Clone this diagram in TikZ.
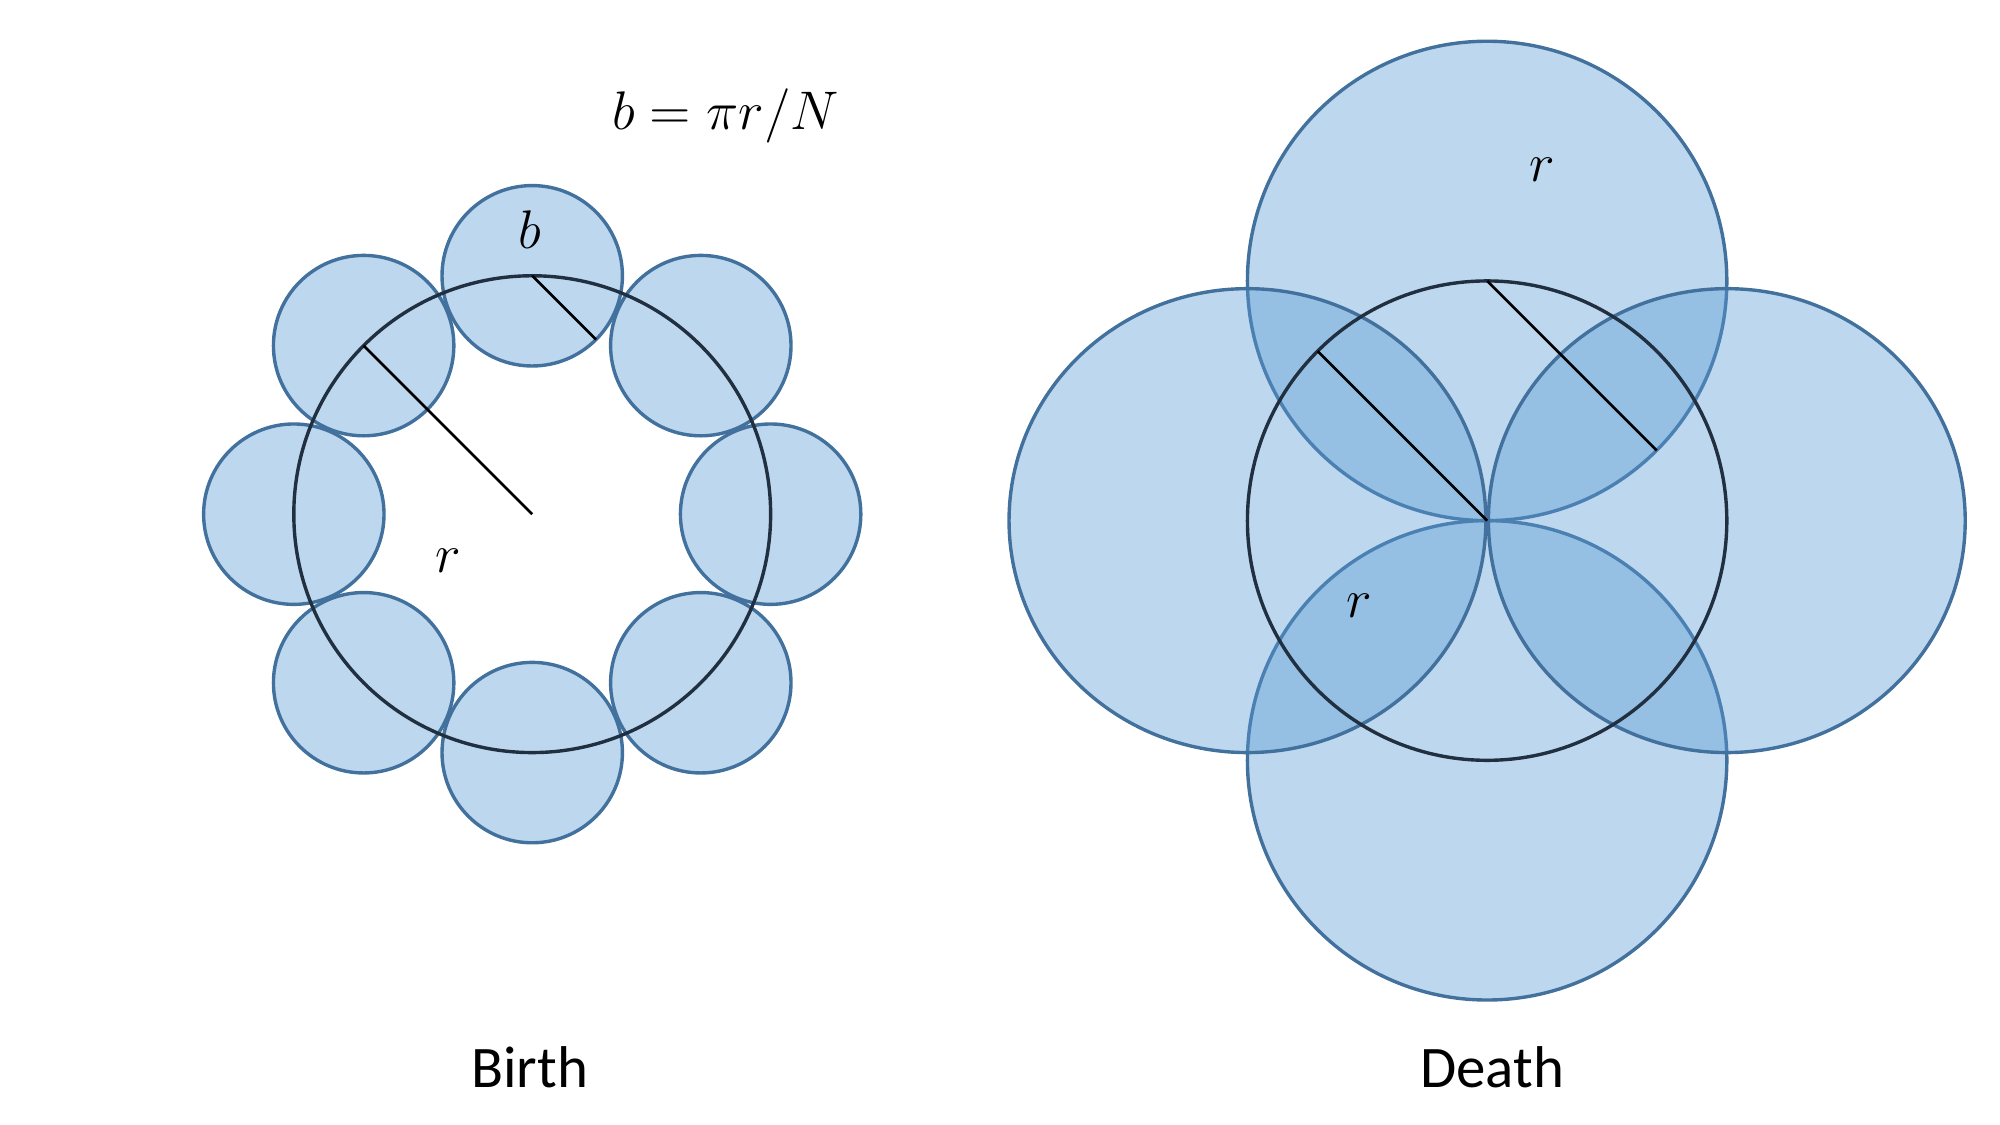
\documentclass[tikz,border=0pt]{standalone}
\usepackage{fontspec}
\setmainfont{Carlito}
\usetikzlibrary{calc}
\definecolor{discfill}{RGB}{91,155,213}
\definecolor{discedge}{RGB}{65,113,156}
\definecolor{ringedge}{RGB}{32,48,64}
\tikzset{%
    disc/.style={fill=discfill,fill opacity=0.4,draw=discedge,line width=0.75pt},
    ring/.style={draw=ringedge,line width=0.75pt},
    radius line/.style={black,line width=0.6pt},
    label/.style={font=\fontsize{13}{15}\selectfont,inner sep=0pt}
}
\begin{document}
\begin{tikzpicture}[x=0.01cm,y=-0.01cm]
    \useasboundingbox (0,0) rectangle (1552,873);

    % Birth: ring with N small discs
    \def\Rbirth{185} % ring radius
    \def\rsmall{70} % small disc radius
    \coordinate (B) at (413,399);
    \foreach \ang in {0,45,...,315}{
        \path[disc] ($(B)+(\ang:\Rbirth)$) circle (\rsmall);
    }
    \draw[ring] (B) circle (\Rbirth);
    \coordinate (Btop) at ($(B)+(0,-\Rbirth)$);
    \coordinate (Bb) at ($(Btop)+(45:\rsmall)$);
    \coordinate (Br) at ($(B)+(225:\Rbirth)$);
    \draw[radius line] (Btop) -- (Bb);
    \draw[radius line] (B) -- (Br);
    \node[label] (lb) at (411,178) {$b$};
    \node[label] (lr) at (348,435) {$r$};
    \node[label] (formula) at (563,90) {$b = \pi r/N$};
    \node[label] (birth) at (411,828) {Birth};

    % Death: ring with four large discs
    \def\Rdeath{186}
    \coordinate (D) at (1154,404);
    \path[disc] ($(D)+(0,-\Rdeath)$) circle (\Rdeath);
    \path[disc] ($(D)+(0,\Rdeath)$) circle (\Rdeath);
    \path[disc] ($(D)+(-\Rdeath,0)$) ellipse (185 and 180);
    \path[disc] ($(D)+(\Rdeath,0)$) ellipse (185 and 180);
    \draw[ring] (D) circle (\Rdeath);
    \coordinate (Dtop) at ($(D)+(0,-\Rdeath)$);
    \coordinate (Dt) at ($(Dtop)+(45:\Rdeath)$);
    \coordinate (Dr) at ($(D)+(225:\Rdeath)$);
    \draw[radius line] (Dtop) -- (Dt);
    \draw[radius line] (D) -- (Dr);
    \node[label] (ldt) at (1197,132) {$r$};
    \node[label] (ldr) at (1055,470) {$r$};
    \node[label] (death) at (1158,828) {Death};
\end{tikzpicture}
\end{document}
